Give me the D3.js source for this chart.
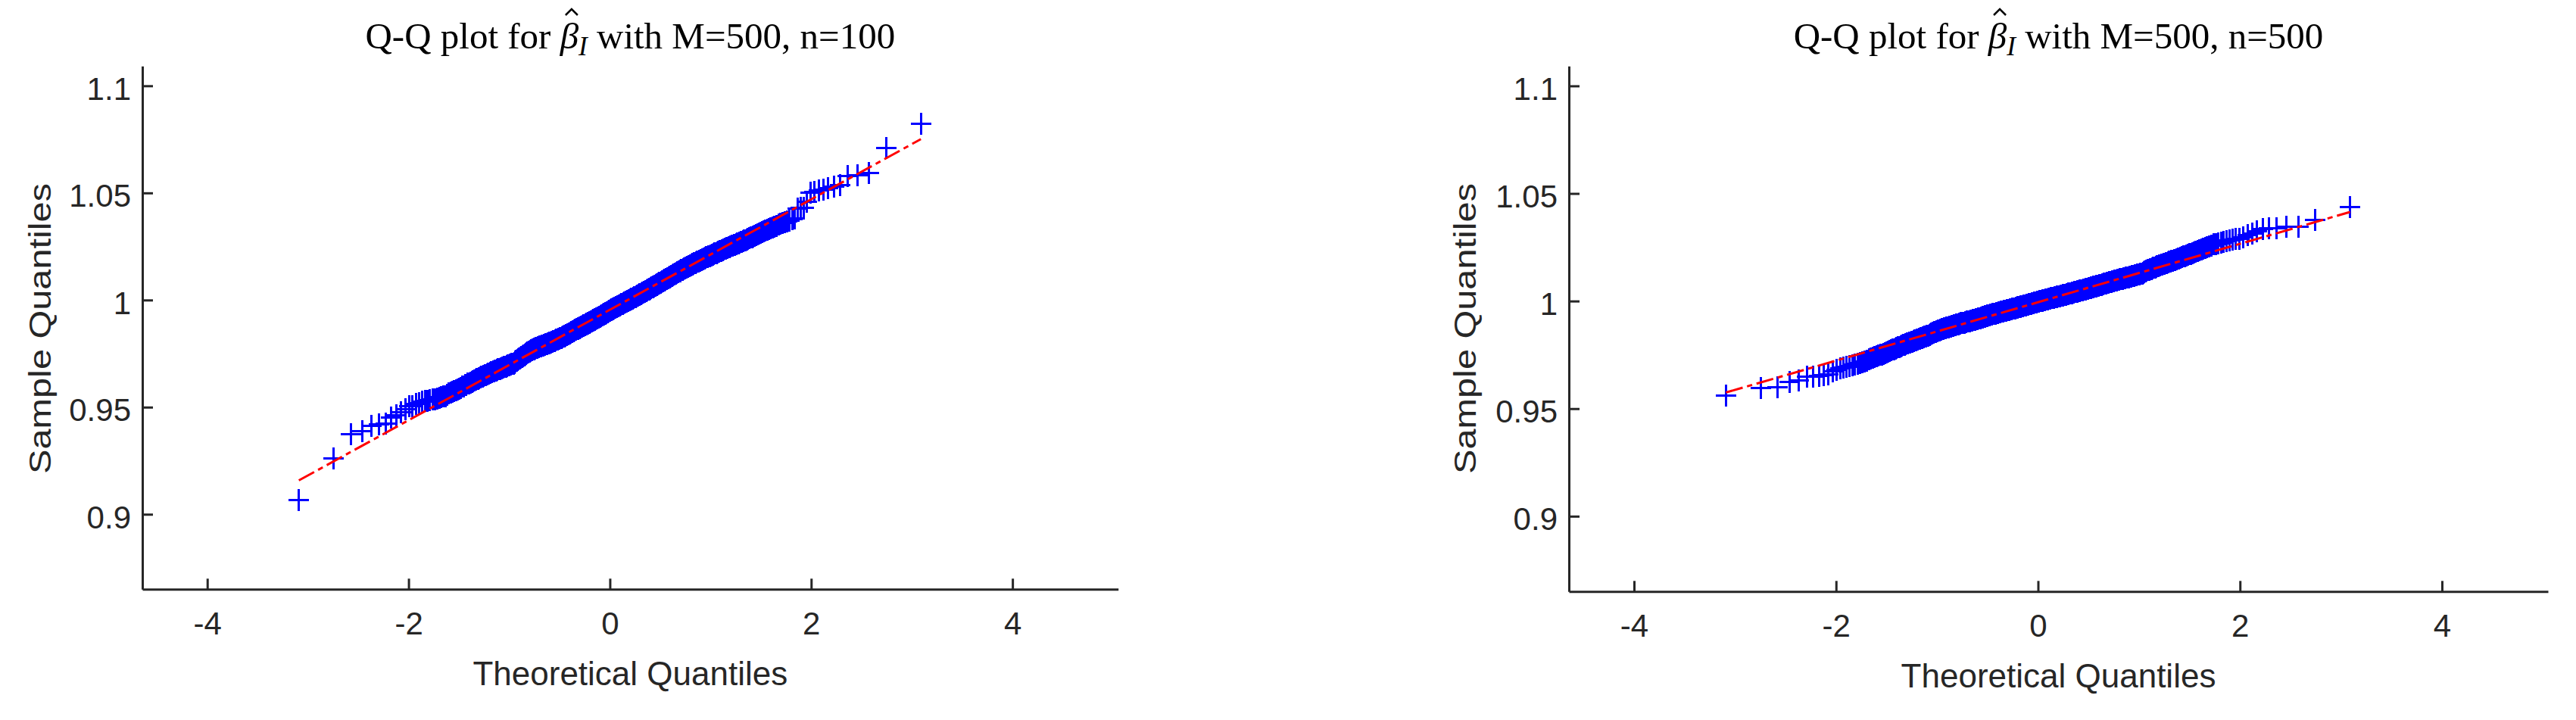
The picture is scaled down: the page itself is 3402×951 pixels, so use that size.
<!DOCTYPE html>
<html>
<head>
<meta charset="utf-8">
<script src="https://cdn.jsdelivr.net/npm/d3@7"></script>
<style>
  body { margin: 0; background: #fff; }
  svg { display: block; }
</style>
</head>
<body>
<div id="chart"></div>
<script>
// sorted sample quantiles of beta_I (M=500 replications)
var sampleN100 = [
  0.9065, 0.9259, 0.9372, 0.9389, 0.9414, 0.9418, 0.9422, 0.9451, 0.9463, 0.9475,
  0.9492, 0.9504, 0.9506, 0.9516, 0.9520, 0.9525, 0.9529, 0.9531, 0.9533, 0.9535,
  0.9537, 0.9540, 0.9543, 0.9547, 0.9550, 0.9552, 0.9558, 0.9565, 0.9568, 0.9571,
  0.9574, 0.9578, 0.9582, 0.9587, 0.9591, 0.9595, 0.9598, 0.9602, 0.9605, 0.9609,
  0.9612, 0.9615, 0.9618, 0.9621, 0.9624, 0.9627, 0.9630, 0.9633, 0.9636, 0.9639,
  0.9641, 0.9643, 0.9646, 0.9648, 0.9650, 0.9652, 0.9655, 0.9657, 0.9660, 0.9662,
  0.9664, 0.9666, 0.9668, 0.9670, 0.9672, 0.9674, 0.9676, 0.9677, 0.9679, 0.9681,
  0.9682, 0.9684, 0.9686, 0.9687, 0.9689, 0.9690, 0.9692, 0.9694, 0.9695, 0.9697,
  0.9698, 0.9700, 0.9701, 0.9702, 0.9704, 0.9705, 0.9713, 0.9716, 0.9718, 0.9720,
  0.9723, 0.9726, 0.9728, 0.9731, 0.9733, 0.9736, 0.9738, 0.9740, 0.9743, 0.9745,
  0.9747, 0.9749, 0.9752, 0.9754, 0.9756, 0.9758, 0.9760, 0.9762, 0.9765, 0.9767,
  0.9768, 0.9770, 0.9771, 0.9772, 0.9774, 0.9775, 0.9776, 0.9777, 0.9779, 0.9780,
  0.9781, 0.9782, 0.9784, 0.9785, 0.9786, 0.9787, 0.9788, 0.9789, 0.9791, 0.9792,
  0.9793, 0.9794, 0.9795, 0.9796, 0.9797, 0.9798, 0.9799, 0.9800, 0.9802, 0.9803,
  0.9804, 0.9805, 0.9806, 0.9808, 0.9809, 0.9810, 0.9811, 0.9812, 0.9814, 0.9815,
  0.9816, 0.9817, 0.9818, 0.9820, 0.9821, 0.9822, 0.9823, 0.9824, 0.9826, 0.9827,
  0.9828, 0.9830, 0.9831, 0.9832, 0.9834, 0.9835, 0.9836, 0.9838, 0.9839, 0.9841,
  0.9842, 0.9844, 0.9845, 0.9847, 0.9848, 0.9850, 0.9851, 0.9853, 0.9854, 0.9856,
  0.9857, 0.9858, 0.9860, 0.9861, 0.9862, 0.9864, 0.9865, 0.9866, 0.9868, 0.9869,
  0.9870, 0.9871, 0.9873, 0.9874, 0.9875, 0.9877, 0.9878, 0.9879, 0.9881, 0.9882,
  0.9883, 0.9884, 0.9886, 0.9887, 0.9888, 0.9890, 0.9891, 0.9892, 0.9894, 0.9895,
  0.9896, 0.9898, 0.9899, 0.9900, 0.9902, 0.9903, 0.9905, 0.9906, 0.9907, 0.9909,
  0.9910, 0.9911, 0.9913, 0.9914, 0.9915, 0.9917, 0.9918, 0.9919, 0.9921, 0.9922,
  0.9923, 0.9924, 0.9926, 0.9927, 0.9928, 0.9930, 0.9931, 0.9932, 0.9934, 0.9935,
  0.9937, 0.9938, 0.9940, 0.9941, 0.9943, 0.9944, 0.9946, 0.9947, 0.9949, 0.9950,
  0.9951, 0.9953, 0.9954, 0.9956, 0.9957, 0.9958, 0.9960, 0.9961, 0.9963, 0.9964,
  0.9965, 0.9966, 0.9968, 0.9969, 0.9970, 0.9971, 0.9972, 0.9974, 0.9975, 0.9976,
  0.9977, 0.9978, 0.9980, 0.9981, 0.9982, 0.9983, 0.9984, 0.9986, 0.9987, 0.9988,
  0.9989, 0.9991, 0.9992, 0.9993, 0.9995, 0.9996, 0.9997, 0.9999, 1.0000, 1.0001,
  1.0002, 1.0004, 1.0005, 1.0006, 1.0008, 1.0009, 1.0010, 1.0012, 1.0013, 1.0014,
  1.0015, 1.0017, 1.0018, 1.0020, 1.0021, 1.0022, 1.0024, 1.0025, 1.0027, 1.0028,
  1.0029, 1.0031, 1.0032, 1.0033, 1.0035, 1.0036, 1.0037, 1.0039, 1.0040, 1.0041,
  1.0043, 1.0044, 1.0046, 1.0047, 1.0049, 1.0050, 1.0052, 1.0053, 1.0055, 1.0056,
  1.0058, 1.0059, 1.0061, 1.0062, 1.0064, 1.0065, 1.0067, 1.0068, 1.0070, 1.0071,
  1.0073, 1.0074, 1.0076, 1.0078, 1.0079, 1.0081, 1.0082, 1.0084, 1.0085, 1.0087,
  1.0089, 1.0090, 1.0092, 1.0094, 1.0095, 1.0097, 1.0098, 1.0100, 1.0102, 1.0103,
  1.0105, 1.0107, 1.0108, 1.0110, 1.0112, 1.0113, 1.0115, 1.0117, 1.0118, 1.0120,
  1.0122, 1.0124, 1.0125, 1.0127, 1.0129, 1.0130, 1.0132, 1.0134, 1.0135, 1.0137,
  1.0139, 1.0141, 1.0142, 1.0144, 1.0146, 1.0147, 1.0149, 1.0151, 1.0152, 1.0154,
  1.0156, 1.0158, 1.0159, 1.0161, 1.0163, 1.0164, 1.0166, 1.0168, 1.0169, 1.0171,
  1.0173, 1.0174, 1.0176, 1.0178, 1.0179, 1.0181, 1.0183, 1.0184, 1.0186, 1.0188,
  1.0190, 1.0191, 1.0193, 1.0195, 1.0197, 1.0199, 1.0200, 1.0202, 1.0204, 1.0206,
  1.0208, 1.0209, 1.0211, 1.0213, 1.0215, 1.0217, 1.0218, 1.0220, 1.0222, 1.0224,
  1.0226, 1.0228, 1.0230, 1.0232, 1.0234, 1.0236, 1.0238, 1.0240, 1.0242, 1.0244,
  1.0246, 1.0248, 1.0250, 1.0252, 1.0254, 1.0256, 1.0258, 1.0261, 1.0263, 1.0265,
  1.0267, 1.0270, 1.0272, 1.0275, 1.0277, 1.0280, 1.0283, 1.0285, 1.0288, 1.0291,
  1.0294, 1.0297, 1.0300, 1.0304, 1.0307, 1.0310, 1.0314, 1.0317, 1.0321, 1.0324,
  1.0328, 1.0331, 1.0335, 1.0339, 1.0343, 1.0347, 1.0351, 1.0356, 1.0360, 1.0365,
  1.0368, 1.0372, 1.0376, 1.0380, 1.0426, 1.0429, 1.0431, 1.0460, 1.0502, 1.0506,
  1.0511, 1.0517, 1.0523, 1.0531, 1.0538, 1.0578, 1.0582, 1.0594, 1.0708, 1.0823
];

var sampleN500 = [
  0.9560, 0.9596, 0.9600, 0.9624, 0.9632, 0.9648, 0.9650, 0.9653, 0.9656, 0.9660,
  0.9672, 0.9680, 0.9686, 0.9690, 0.9694, 0.9698, 0.9702, 0.9706, 0.9709, 0.9712,
  0.9716, 0.9720, 0.9724, 0.9728, 0.9732, 0.9735, 0.9739, 0.9742, 0.9746, 0.9749,
  0.9752, 0.9755, 0.9759, 0.9762, 0.9765, 0.9768, 0.9771, 0.9774, 0.9776, 0.9779,
  0.9782, 0.9785, 0.9787, 0.9790, 0.9792, 0.9795, 0.9797, 0.9799, 0.9802, 0.9804,
  0.9806, 0.9808, 0.9810, 0.9812, 0.9814, 0.9816, 0.9818, 0.9820, 0.9822, 0.9824,
  0.9826, 0.9828, 0.9829, 0.9831, 0.9833, 0.9834, 0.9836, 0.9837, 0.9839, 0.9840,
  0.9843, 0.9846, 0.9848, 0.9850, 0.9852, 0.9854, 0.9855, 0.9857, 0.9859, 0.9861,
  0.9862, 0.9864, 0.9865, 0.9866, 0.9868, 0.9869, 0.9870, 0.9871, 0.9873, 0.9874,
  0.9875, 0.9876, 0.9877, 0.9878, 0.9879, 0.9880, 0.9881, 0.9882, 0.9884, 0.9885,
  0.9886, 0.9887, 0.9888, 0.9889, 0.9890, 0.9891, 0.9892, 0.9893, 0.9894, 0.9895,
  0.9896, 0.9897, 0.9897, 0.9898, 0.9899, 0.9900, 0.9900, 0.9901, 0.9902, 0.9903,
  0.9904, 0.9904, 0.9905, 0.9906, 0.9907, 0.9907, 0.9908, 0.9909, 0.9910, 0.9911,
  0.9912, 0.9912, 0.9913, 0.9914, 0.9915, 0.9915, 0.9916, 0.9917, 0.9918, 0.9919,
  0.9920, 0.9921, 0.9921, 0.9922, 0.9923, 0.9924, 0.9925, 0.9926, 0.9927, 0.9928,
  0.9929, 0.9929, 0.9930, 0.9931, 0.9932, 0.9932, 0.9933, 0.9934, 0.9935, 0.9936,
  0.9937, 0.9937, 0.9938, 0.9939, 0.9939, 0.9940, 0.9941, 0.9941, 0.9942, 0.9943,
  0.9944, 0.9944, 0.9945, 0.9946, 0.9947, 0.9947, 0.9948, 0.9949, 0.9950, 0.9951,
  0.9951, 0.9952, 0.9952, 0.9953, 0.9954, 0.9954, 0.9955, 0.9955, 0.9956, 0.9957,
  0.9958, 0.9958, 0.9959, 0.9960, 0.9960, 0.9961, 0.9962, 0.9962, 0.9963, 0.9964,
  0.9964, 0.9965, 0.9966, 0.9966, 0.9967, 0.9967, 0.9968, 0.9969, 0.9969, 0.9970,
  0.9971, 0.9971, 0.9972, 0.9973, 0.9973, 0.9974, 0.9975, 0.9975, 0.9976, 0.9977,
  0.9977, 0.9978, 0.9979, 0.9979, 0.9980, 0.9981, 0.9981, 0.9982, 0.9983, 0.9984,
  0.9984, 0.9985, 0.9985, 0.9986, 0.9987, 0.9987, 0.9988, 0.9989, 0.9989, 0.9990,
  0.9991, 0.9991, 0.9992, 0.9993, 0.9993, 0.9994, 0.9995, 0.9995, 0.9996, 0.9997,
  0.9997, 0.9998, 0.9999, 0.9999, 1.0000, 1.0000, 1.0001, 1.0002, 1.0002, 1.0003,
  1.0004, 1.0004, 1.0005, 1.0005, 1.0006, 1.0007, 1.0007, 1.0008, 1.0008, 1.0009,
  1.0010, 1.0010, 1.0011, 1.0011, 1.0012, 1.0013, 1.0013, 1.0014, 1.0014, 1.0015,
  1.0016, 1.0016, 1.0017, 1.0017, 1.0018, 1.0019, 1.0019, 1.0020, 1.0020, 1.0021,
  1.0022, 1.0022, 1.0023, 1.0023, 1.0024, 1.0025, 1.0025, 1.0026, 1.0026, 1.0027,
  1.0028, 1.0028, 1.0029, 1.0030, 1.0030, 1.0031, 1.0032, 1.0032, 1.0033, 1.0034,
  1.0034, 1.0035, 1.0035, 1.0036, 1.0037, 1.0037, 1.0038, 1.0038, 1.0039, 1.0040,
  1.0041, 1.0041, 1.0042, 1.0043, 1.0043, 1.0044, 1.0045, 1.0045, 1.0046, 1.0047,
  1.0048, 1.0048, 1.0049, 1.0050, 1.0051, 1.0051, 1.0052, 1.0053, 1.0054, 1.0055,
  1.0055, 1.0056, 1.0057, 1.0057, 1.0058, 1.0059, 1.0060, 1.0060, 1.0061, 1.0062,
  1.0063, 1.0064, 1.0064, 1.0065, 1.0066, 1.0067, 1.0067, 1.0068, 1.0069, 1.0070,
  1.0071, 1.0071, 1.0072, 1.0073, 1.0074, 1.0075, 1.0075, 1.0076, 1.0077, 1.0078,
  1.0079, 1.0080, 1.0081, 1.0081, 1.0082, 1.0083, 1.0084, 1.0085, 1.0086, 1.0087,
  1.0088, 1.0089, 1.0089, 1.0090, 1.0091, 1.0092, 1.0093, 1.0094, 1.0095, 1.0096,
  1.0097, 1.0097, 1.0098, 1.0099, 1.0100, 1.0101, 1.0101, 1.0102, 1.0103, 1.0104,
  1.0105, 1.0106, 1.0107, 1.0108, 1.0109, 1.0109, 1.0110, 1.0111, 1.0112, 1.0113,
  1.0114, 1.0115, 1.0116, 1.0117, 1.0118, 1.0119, 1.0120, 1.0121, 1.0122, 1.0123,
  1.0124, 1.0125, 1.0126, 1.0127, 1.0128, 1.0131, 1.0134, 1.0137, 1.0139, 1.0141,
  1.0143, 1.0145, 1.0146, 1.0148, 1.0150, 1.0152, 1.0154, 1.0155, 1.0157, 1.0159,
  1.0161, 1.0163, 1.0165, 1.0167, 1.0169, 1.0171, 1.0172, 1.0174, 1.0176, 1.0178,
  1.0180, 1.0182, 1.0184, 1.0186, 1.0188, 1.0190, 1.0192, 1.0194, 1.0197, 1.0199,
  1.0202, 1.0204, 1.0207, 1.0209, 1.0212, 1.0215, 1.0218, 1.0220, 1.0223, 1.0226,
  1.0229, 1.0233, 1.0236, 1.0240, 1.0243, 1.0247, 1.0251, 1.0255, 1.0259, 1.0263,
  1.0266, 1.0269, 1.0272, 1.0275, 1.0278, 1.0281, 1.0284, 1.0288, 1.0290, 1.0295,
  1.0305, 1.0312, 1.0323, 1.0335, 1.0337, 1.0340, 1.0344, 1.0346, 1.0376, 1.0436
];

var sampleSizes = [100, 500];
var xTicks = [-4, -2, 0, 2, 4];
var yTicks = [0.9, 0.95, 1, 1.05, 1.1];
var yTickLabels = ['0.9', '0.95', '1', '1.05', '1.1'];
// red reference line ends (at the smallest and largest theoretical quantile)
var refLineX = [-3.09, 3.09];
var refLineN100 = [0.9158, 1.0751];
var refLineN500 = [0.9575, 1.0414];

// standard normal quantile (Acklam), used for the theoretical axis like qqplot does
function probit(p) {
  var a = [-39.69683028665376, 220.9460984245205, -275.9285104469687, 138.3577518672690, -30.66479806614716, 2.506628277459239];
  var b = [-54.47609879822406, 161.5858368580409, -155.6989798598866, 66.80131188771972, -13.28068155288572];
  var c = [-0.007784894002430293, -0.3223964580411365, -2.400758277161838, -2.549732539343734, 4.374664141464968, 2.938163982698783];
  var d = [0.007784695709041462, 0.3224671290700398, 2.445134137142996, 3.754408661907416];
  var q, r;
  if (p < 0.02425) {
    q = Math.sqrt(-2 * Math.log(p));
    return (((((c[0]*q+c[1])*q+c[2])*q+c[3])*q+c[4])*q+c[5]) / ((((d[0]*q+d[1])*q+d[2])*q+d[3])*q+1);
  }
  if (p > 1 - 0.02425) {
    q = Math.sqrt(-2 * Math.log(1 - p));
    return -(((((c[0]*q+c[1])*q+c[2])*q+c[3])*q+c[4])*q+c[5]) / ((((d[0]*q+d[1])*q+d[2])*q+d[3])*q+1);
  }
  q = p - 0.5; r = q * q;
  return (((((a[0]*r+a[1])*r+a[2])*r+a[3])*r+a[4])*r+a[5])*q / (((((b[0]*r+b[1])*r+b[2])*r+b[3])*r+b[4])*r+1);
}

var axisColor = '#262626';
var sansFont = '"Liberation Sans", Arial, sans-serif';
var serifFont = '"Liberation Serif", "Times New Roman", serif';

var panels = [
  {n: sampleSizes[0], sample: sampleN100, ref: refLineN100, left: 188, right: 1476.7, top: 87.3, bottom: 778.3, xlab: 905, ylab: 67},
  {n: sampleSizes[1], sample: sampleN500, ref: refLineN500, left: 2072, right: 3365, top: 87.3, bottom: 781.3, xlab: 908, ylab: 1949}
];

var svg = d3.select('#chart').append('svg')
  .attr('width', 3402)
  .attr('height', 951)
  .style('background', '#fff');

panels.forEach(function(p) {
  var x = d3.scaleLinear().domain([-4.645, 5.05]).range([p.left, p.right]);
  var y = d3.scaleLinear().domain([0.865, 1.1092]).range([p.bottom, p.top]);
  var g = svg.append('g');

  var pts = p.sample.map(function(v, i) {
    return {q: probit((i + 0.5) / p.sample.length), v: v};
  });

  // data markers
  g.append('g').selectAll('path')
    .data(pts)
    .enter()
    .append('path')
    .attr('d', 'M-13.5,0H13.5M0,-14.5V14.5')
    .attr('transform', d => `translate(${x(d.q)},${y(d.v)})`)
    .attr('fill', 'none')
    .attr('stroke', '#0000ff')
    .attr('stroke-width', 3)
    .attr('shape-rendering', 'crispEdges');

  // dash-dot reference line on top
  var line = d3.line().x(d => x(d[0])).y(d => y(d[1]));
  g.append('path')
    .datum(d3.zip(refLineX, p.ref))
    .attr('d', line)
    .attr('fill', 'none')
    .attr('stroke', '#ff0000')
    .attr('stroke-width', 3)
    .attr('stroke-dasharray', '23,6,7,6');

  var xAxis = d3.axisBottom(x)
    .tickValues(xTicks)
    .tickFormat(d => String(d))
    .tickSize(-14)
    .tickSizeOuter(0)
    .tickPadding(30);
  var gx = g.append('g')
    .attr('transform', `translate(0,${p.bottom})`)
    .call(xAxis);

  var yAxis = d3.axisLeft(y)
    .tickValues(yTicks)
    .tickFormat((d, i) => yTickLabels[i])
    .tickSize(-14)
    .tickSizeOuter(0)
    .tickPadding(15);
  var gy = g.append('g')
    .attr('transform', `translate(${p.left},0)`)
    .call(yAxis);

  [gx, gy].forEach(function(ax) {
    ax.attr('font-family', sansFont).attr('font-size', 42);
    ax.select('.domain').attr('stroke', axisColor).attr('stroke-width', 3);
    ax.selectAll('.tick line').attr('stroke', axisColor).attr('stroke-width', 3);
    ax.selectAll('.tick text').attr('fill', axisColor);
  });
  gy.selectAll('.tick text').attr('dy', '0.43em');

  var cx = (p.left + p.right) / 2;

  // title
  var title = g.append('text')
    .attr('x', cx)
    .attr('y', 64)
    .attr('text-anchor', 'middle')
    .attr('font-family', serifFont)
    .attr('font-size', 49)
    .attr('fill', '#000');
  var head = 'Q-Q plot for ';
  title.append('tspan').text(head);
  title.append('tspan').attr('font-style', 'italic').text('\u03B2');
  title.append('tspan').attr('font-style', 'italic').attr('font-size', 35).attr('dy', 9).text('I');
  title.append('tspan').attr('dy', -9).text(' with M=500, n=' + p.n);

  // hat over beta
  var ext = title.node().getExtentOfChar(head.length);
  var hx = ext.x + ext.width / 2 + 3;
  g.append('path')
    .attr('d', `M${hx - 8},${64 - 44}L${hx},${64 - 52}L${hx + 8},${64 - 44}`)
    .attr('fill', 'none')
    .attr('stroke', '#000')
    .attr('stroke-width', 2.5);

  // axis labels
  g.append('text')
    .attr('x', cx)
    .attr('y', p.xlab)
    .attr('text-anchor', 'middle')
    .attr('font-family', sansFont)
    .attr('font-size', 44)
    .attr('fill', axisColor)
    .text('Theoretical Quantiles');

  g.append('text')
    .attr('transform', `translate(${p.ylab},434) rotate(-90)`)
    .attr('text-anchor', 'middle')
    .attr('font-family', sansFont)
    .attr('font-size', 41)
    .attr('fill', axisColor)
    .attr('textLength', 384)
    .attr('lengthAdjust', 'spacingAndGlyphs')
    .text('Sample Quantiles');
});
</script>
</body>
</html>
